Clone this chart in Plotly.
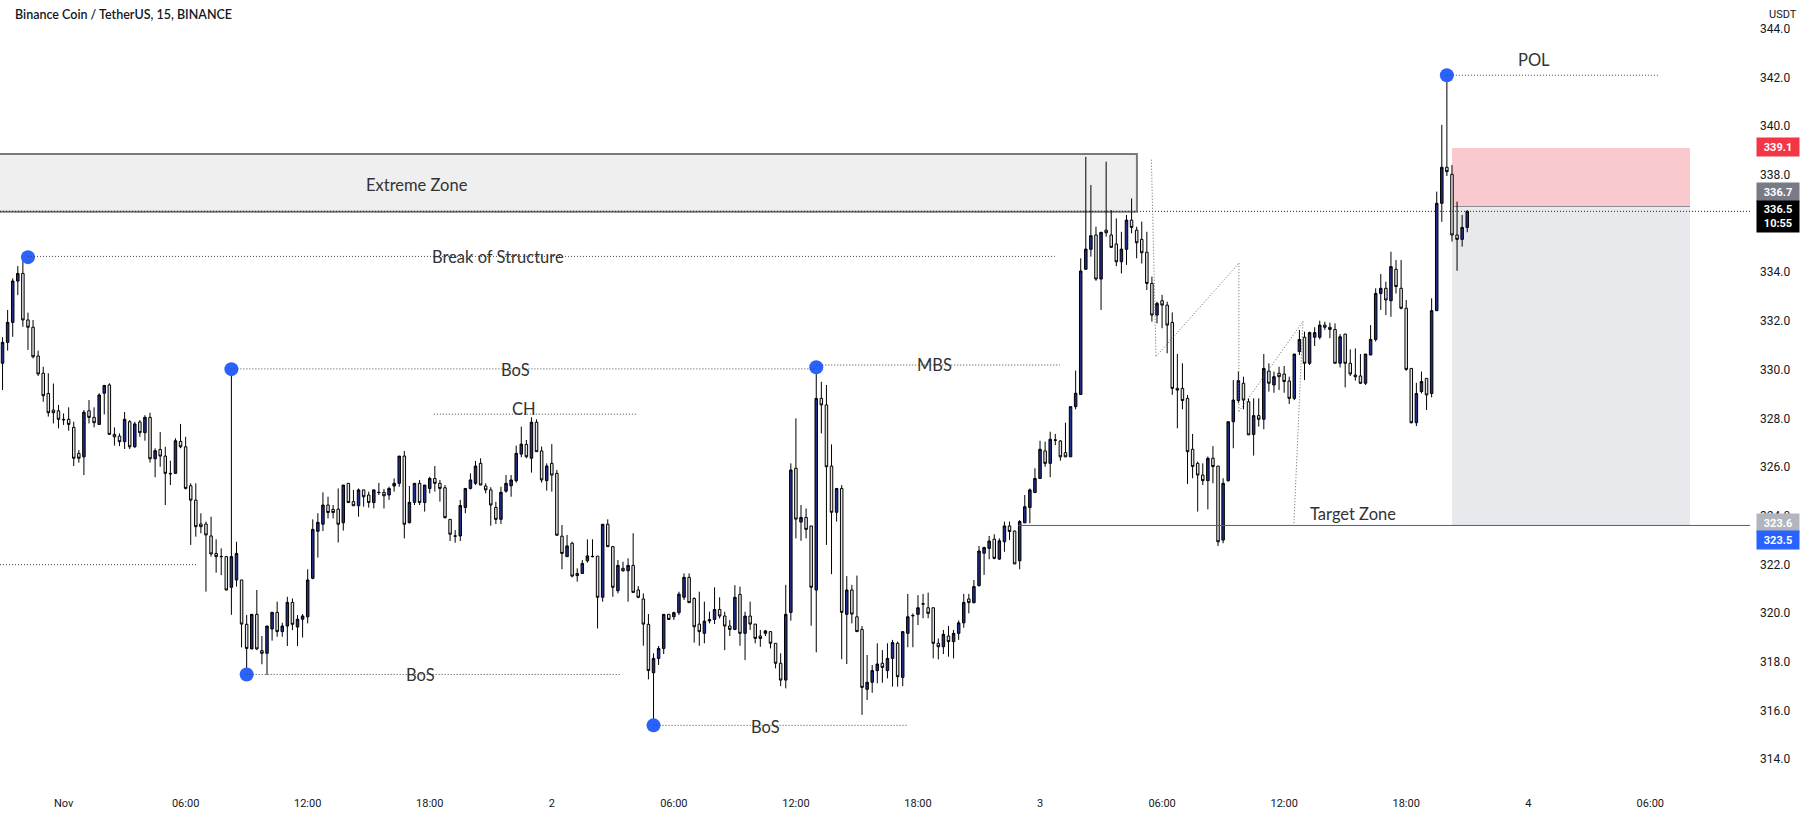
import plotly.graph_objects as go
import pandas as pd

# ---------------- data (15-minute bars, BNB/USDT) ----------------
START = pd.Timestamp("2022-10-31 21:00")   # first visible bar
NOV1 = pd.Timestamp("2022-11-01 00:00")
BAR = pd.Timedelta(minutes=15)

opens = [330.26, 331.12, 331.94, 333.64, 333.95, 332.04, 331.74, 330.56, 329.85, 329.02, 328.34, 328.31,
         327.96, 327.96, 327.63, 326.56, 326.42, 328.31, 328.04, 327.75, 329.03, 329.37, 327.34, 327.27,
         327.04, 327.86, 326.83, 327.85, 327.41, 328.04, 326.34, 326.72, 326.45, 325.74, 325.74, 327.05,
         326.83, 325.23, 324.64, 323.66, 323.66, 323.17, 322.45, 322.33, 322.32, 321.06, 321.36, 321.36,
         319.54, 318.53, 319.95, 318.46, 318.35, 319.35, 320.03, 319.24, 319.47, 320.44, 319.43, 319.75,
         319.85, 321.43, 323.36, 323.65, 324.44, 324.26, 324.27, 323.71, 325.33, 324.58, 324.41, 325.06,
         324.85, 324.54, 324.95, 324.96, 324.85, 325.22, 325.33, 326.45, 323.71, 324.55, 325.33, 324.54,
         325.12, 325.53, 325.33, 325.15, 323.85, 323.17, 323.17, 324.34, 325.12, 325.33, 326.15, 325.22,
         325.06, 324.34, 323.85, 325.01, 325.23, 325.44, 326.53, 326.93, 326.36, 327.84, 326.66, 325.44,
         326.15, 325.74, 323.16, 322.32, 322.87, 321.63, 321.63, 322.15, 322.32, 322.34, 320.65, 323.65,
         322.73, 320.92, 321.84, 321.74, 321.96, 320.95, 320.58, 319.54, 317.55, 318.14, 318.55, 319.95,
         319.85, 320.02, 320.65, 321.47, 320.60, 319.55, 319.17, 319.68, 319.74, 320.15, 319.88, 319.47,
         319.33, 320.77, 319.17, 319.88, 319.55, 319.06, 319.17, 319.24, 318.76, 317.94, 317.25, 320.03,
         325.95, 323.74, 323.93, 323.58, 320.95, 328.82, 328.55, 326.04, 324.14, 325.12, 319.95, 320.95,
         319.85, 319.33, 316.87, 317.16, 317.64, 317.94, 317.64, 318.14, 318.76, 317.36, 319.17, 319.89,
         319.95, 320.37, 320.22, 320.22, 318.76, 318.62, 319.06, 318.83, 319.17, 319.60, 320.58, 320.43,
         321.13, 322.46, 322.66, 323.04, 322.22, 322.93, 323.58, 323.37, 322.15, 323.71, 324.34, 324.95,
         325.53, 326.66, 326.15, 327.10, 327.07, 326.59, 326.42, 328.48, 328.98, 334.12, 334.94, 335.53,
         333.72, 335.73, 335.53, 335.16, 334.43, 334.94, 336.14, 335.73, 335.35, 334.82, 333.54, 332.24,
         332.83, 332.65, 331.94, 329.23, 329.23, 328.82, 326.73, 326.15, 325.67, 325.44, 326.36, 326.04,
         323.00, 325.44, 327.86, 328.73, 329.44, 328.68, 327.34, 328.11, 327.96, 329.94, 329.37, 329.85,
         329.82, 329.53, 328.82, 330.74, 331.33, 330.26, 331.33, 331.33, 331.83, 331.74, 331.65, 330.26,
         331.46, 330.26, 329.78, 329.74, 329.44, 330.60, 331.24, 333.13, 333.34, 332.83, 334.12, 333.34,
         332.52, 330.05, 327.82, 329.10, 329.64, 329.02, 332.42, 336.83, 338.31, 338.02, 335.53, 335.35,
         335.84]
highs = [331.33, 332.45, 333.75, 334.25, 334.60, 332.34, 332.04, 330.78, 330.12, 329.85, 329.43, 328.55,
         328.20, 328.45, 327.86, 326.70, 328.34, 328.75, 328.45, 329.03, 329.37, 329.44, 327.63, 327.38,
         328.26, 327.93, 327.86, 327.93, 328.13, 328.23, 326.77, 327.44, 326.83, 326.26, 327.18, 327.77,
         327.24, 325.33, 325.33, 324.10, 323.76, 323.96, 323.03, 322.66, 322.35, 330.00, 322.93, 321.37,
         319.92, 319.95, 320.95, 319.06, 319.47, 320.06, 320.47, 319.61, 320.67, 320.60, 319.92, 319.96,
         321.80, 323.85, 324.10, 324.96, 324.78, 324.44, 325.12, 325.26, 325.33, 325.06, 325.12, 325.06,
         324.99, 325.08, 325.35, 325.10, 325.19, 325.53, 326.45, 326.66, 325.22, 325.33, 325.47, 325.26,
         325.60, 326.04, 325.47, 325.26, 323.85, 323.41, 324.65, 325.12, 325.74, 326.25, 326.36, 325.33,
         325.17, 324.57, 325.19, 325.67, 325.67, 326.88, 327.66, 327.11, 328.04, 327.96, 326.84, 326.15,
         326.94, 325.88, 323.62, 323.21, 322.93, 321.84, 322.18, 323.03, 323.03, 322.34, 323.65, 323.85,
         322.76, 322.18, 322.11, 322.25, 323.28, 321.11, 320.81, 319.96, 318.35, 318.65, 319.95, 319.95,
         320.06, 320.88, 321.63, 321.63, 320.65, 320.88, 320.47, 320.06, 321.06, 320.65, 320.06, 319.72,
         321.15, 321.09, 320.06, 320.47, 319.55, 319.31, 319.31, 319.24, 318.76, 318.35, 321.16, 326.15,
         328.00, 324.44, 324.30, 323.58, 330.10, 329.50, 329.37, 326.93, 325.12, 325.26, 321.52, 321.16,
         321.54, 319.47, 318.28, 317.87, 318.76, 318.48, 318.76, 318.90, 318.83, 319.24, 320.79, 319.99,
         320.74, 320.79, 320.84, 320.22, 318.96, 319.31, 319.47, 319.31, 319.70, 320.79, 320.79, 321.36,
         322.76, 322.73, 323.17, 323.24, 323.07, 323.76, 323.76, 323.39, 323.82, 324.85, 325.12, 325.95,
         327.08, 327.04, 327.45, 327.36, 327.11, 327.82, 328.48, 329.96, 334.57, 338.74, 337.58, 335.87,
         335.64, 338.54, 336.55, 336.21, 335.66, 336.35, 337.03, 335.87, 336.08, 335.66, 333.82, 332.79,
         333.07, 332.79, 332.35, 330.64, 330.26, 328.96, 327.36, 326.22, 326.15, 326.43, 326.86, 326.04,
         325.54, 327.86, 329.57, 329.92, 329.71, 328.82, 328.82, 328.82, 330.64, 330.26, 329.92, 330.12,
         330.15, 329.71, 330.64, 331.63, 331.56, 331.56, 331.74, 332.01, 331.97, 331.93, 331.90, 331.46,
         331.46, 330.83, 330.87, 330.64, 330.64, 331.83, 333.34, 333.93, 333.61, 334.84, 334.50, 334.50,
         332.86, 330.05, 329.46, 329.92, 329.64, 332.93, 337.31, 340.05, 342.10, 338.40, 336.90, 336.35,
         336.55]
lows = [329.16, 330.78, 331.35, 333.06, 331.76, 330.81, 330.46, 329.74, 328.68, 328.07, 327.79, 327.59,
        327.73, 327.49, 326.04, 326.18, 325.67, 327.79, 327.63, 327.73, 328.16, 327.34, 326.88, 326.86,
        326.74, 326.74, 326.79, 327.24, 327.08, 326.18, 325.58, 326.01, 324.44, 325.26, 325.71, 326.77,
        325.08, 322.80, 323.14, 323.28, 320.88, 322.32, 321.66, 321.56, 320.93, 319.93, 321.09, 318.59,
        317.45, 318.52, 318.48, 317.90, 317.46, 318.87, 319.03, 319.03, 318.65, 319.30, 318.65, 319.00,
        319.58, 321.39, 322.28, 323.37, 323.89, 323.89, 322.90, 323.39, 324.54, 324.41, 323.96, 324.37,
        324.33, 324.30, 324.85, 324.30, 324.65, 324.99, 325.19, 323.07, 323.69, 324.44, 324.44, 324.17,
        324.92, 324.99, 324.58, 323.89, 322.96, 322.89, 322.96, 324.10, 325.08, 325.26, 325.26, 324.92,
        323.59, 323.66, 323.66, 324.95, 324.78, 325.36, 326.40, 326.36, 325.77, 326.63, 325.36, 325.03,
        324.99, 323.17, 321.80, 322.32, 321.47, 321.29, 321.61, 322.07, 322.29, 319.37, 320.47, 322.73,
        320.67, 320.81, 321.70, 320.47, 320.85, 320.61, 318.66, 317.28, 315.40, 317.87, 318.32, 319.74,
        319.72, 319.92, 320.54, 320.43, 318.79, 318.66, 318.76, 319.58, 319.55, 319.78, 318.48, 319.06,
        319.30, 318.66, 318.07, 319.31, 318.76, 318.62, 319.06, 318.55, 317.73, 317.00, 316.91, 319.69,
        323.07, 322.97, 323.07, 319.48, 318.39, 327.38, 322.80, 321.60, 323.76, 318.11, 317.91, 319.58,
        319.24, 315.82, 316.43, 316.73, 317.12, 317.14, 317.32, 316.98, 316.98, 317.00, 318.60, 318.60,
        319.51, 319.79, 319.79, 318.14, 318.10, 318.32, 318.21, 318.14, 318.90, 319.40, 319.99, 320.40,
        321.09, 321.57, 322.21, 322.21, 322.18, 322.52, 323.00, 322.02, 321.80, 323.69, 323.69, 324.95,
        325.53, 326.01, 325.58, 326.90, 326.26, 326.40, 326.42, 328.37, 328.98, 334.12, 334.64, 333.65,
        332.45, 335.46, 335.02, 334.25, 333.95, 334.30, 335.60, 334.57, 334.36, 333.27, 331.97, 331.90,
        331.70, 330.67, 328.96, 327.59, 328.37, 325.30, 325.54, 324.17, 325.26, 324.26, 325.33, 322.76,
        322.87, 325.40, 326.77, 328.62, 328.37, 327.32, 326.47, 327.66, 327.55, 329.10, 329.05, 329.16,
        329.05, 328.59, 328.75, 330.60, 329.57, 330.19, 330.97, 331.24, 331.63, 331.29, 330.26, 330.09,
        329.27, 329.74, 329.55, 329.41, 329.37, 330.60, 331.15, 332.45, 332.24, 332.17, 333.13, 332.48,
        329.95, 327.79, 327.68, 329.02, 328.34, 328.86, 332.42, 336.07, 337.95, 335.26, 334.06, 335.05,
        335.64]
closes = [331.12, 331.94, 333.64, 333.95, 332.04, 331.74, 330.53, 329.82, 328.93, 328.23, 328.23, 327.96,
          327.94, 327.75, 326.36, 326.36, 328.25, 328.04, 327.82, 328.96, 329.35, 327.34, 327.24, 327.04,
          327.96, 326.83, 327.77, 327.41, 328.04, 326.34, 326.67, 326.45, 325.74, 325.72, 327.08, 326.83,
          325.12, 324.64, 323.55, 323.55, 323.21, 322.43, 322.32, 322.32, 320.95, 322.32, 322.45, 319.55,
          318.55, 319.95, 318.53, 318.35, 319.47, 320.03, 319.24, 319.47, 320.44, 319.54, 319.75, 319.88,
          321.36, 323.44, 323.73, 324.44, 324.13, 324.13, 323.65, 325.26, 324.54, 324.41, 325.06, 324.78,
          324.54, 325.06, 324.96, 324.82, 325.12, 325.33, 326.45, 323.65, 324.55, 325.33, 324.54, 325.26,
          325.53, 325.33, 325.12, 323.92, 323.24, 323.16, 324.42, 325.12, 325.47, 326.04, 325.26, 325.06,
          324.44, 323.85, 324.96, 325.33, 325.47, 326.56, 326.94, 326.42, 327.84, 326.63, 325.47, 326.04,
          325.67, 323.20, 322.45, 322.76, 321.52, 321.54, 322.04, 322.35, 322.33, 320.65, 323.65, 322.73,
          321.06, 321.96, 321.74, 321.96, 320.85, 320.65, 319.55, 317.64, 318.14, 318.55, 319.95, 319.74,
          320.02, 320.78, 321.47, 320.43, 319.44, 319.24, 319.67, 319.73, 320.15, 319.88, 319.47, 319.33,
          320.65, 319.17, 319.88, 319.55, 318.96, 318.96, 319.27, 318.76, 317.94, 317.25, 319.95, 325.88,
          323.86, 323.93, 323.44, 321.06, 328.82, 328.55, 326.01, 324.14, 325.12, 320.03, 320.95, 319.96,
          319.24, 316.95, 317.16, 317.64, 317.91, 317.77, 318.14, 318.79, 317.39, 319.24, 319.85, 319.90,
          320.22, 320.38, 319.99, 318.76, 318.62, 319.13, 318.83, 319.17, 319.60, 320.44, 320.43, 321.09,
          322.55, 322.69, 322.96, 322.25, 322.97, 323.58, 323.35, 322.02, 323.76, 324.37, 325.06, 325.53,
          326.73, 326.15, 327.14, 327.11, 326.42, 326.42, 328.48, 329.03, 334.05, 334.95, 335.50, 333.72,
          335.64, 335.62, 335.02, 334.43, 334.95, 336.14, 335.84, 335.21, 334.80, 333.54, 332.24, 332.72,
          332.65, 331.83, 329.23, 329.16, 328.73, 326.63, 326.02, 325.67, 325.44, 326.36, 326.02, 322.93,
          325.33, 327.86, 328.75, 329.55, 328.75, 327.32, 328.11, 327.96, 330.05, 329.44, 329.71, 329.71,
          329.51, 328.82, 330.64, 331.24, 330.26, 331.52, 331.52, 331.83, 331.74, 331.65, 330.26, 331.35,
          330.26, 329.82, 329.71, 329.44, 330.64, 331.24, 333.13, 333.34, 332.86, 334.23, 333.41, 332.52,
          330.01, 327.82, 329.02, 329.51, 328.96, 332.42, 336.83, 338.31, 338.13, 335.53, 335.35, 335.84,
          336.50]

# axis ticks
price_ticks = [314, 316, 318, 320, 322, 324, 326, 328, 330, 332, 334, 336, 338, 340, 342, 344]
time_ticks = ["2022-11-01 00:00", "2022-11-01 06:00", "2022-11-01 12:00", "2022-11-01 18:00",
              "2022-11-02 00:00", "2022-11-02 06:00", "2022-11-02 12:00", "2022-11-02 18:00",
              "2022-11-03 00:00", "2022-11-03 06:00", "2022-11-03 12:00", "2022-11-03 18:00",
              "2022-11-04 00:00", "2022-11-04 06:00"]
time_labels = ["Nov", "06:00", "12:00", "18:00", "2", "06:00", "12:00", "18:00",
               "3", "06:00", "12:00", "18:00", "4", "06:00"]

# drawings (bar offsets from Nov 1 00:00, prices)
swing_bars = [-7, 33, 36, 116, 148, 272]
swing_prices = [334.62, 330.02, 317.48, 315.39, 330.10, 342.09]

level_start = [-7, 33, 148, 72.8, -12.5, 36, 116, 272]
level_end = [194.9, 148, 195.9, 112.8, 26.2, 109.6, 166.1, 313.7]
level_price = [334.65, 330.03, 330.19, 328.17, 321.99, 317.48, 315.39, 342.09]

label_text = ["Extreme Zone", "Break of Structure", "BoS", "MBS", "CH", "BoS", "BoS", "POL", "Target Zone"]
label_bar = [69.4, 85.5, 88.9, 171.3, 90.5, 70.1, 138.1, 289.1, 253.6]
label_price = [337.58, 334.62, 330.00, 330.19, 328.40, 317.45, 315.34, 342.72, 324.06]

zone_bars = [-20, 211.05]
zone_prices = [336.48, 338.86]

zig_bars = [213.9, 214.8, 231.1, 231.1, 243.7, 241.9]
zig_prices = [338.62, 330.54, 334.37, 328.28, 331.98, 323.63]

target_bar = 187.7
target_price = 323.6
pos_bars = [273.0, 319.8]
pos_entry, pos_stop, pos_target = 336.7, 339.1, 323.6
last_price = 336.5

x_range_bars = [-12.5, 331.6]
y_range = [312.9, 345.18]


def T(b):
    return NOV1 + b * BAR


times = [START + k * BAR for k in range(len(opens))]

fig = go.Figure()
fig.add_trace(go.Candlestick(
    x=times, open=opens, high=highs, low=lows, close=closes,
    increasing=dict(fillcolor="#1f2d8a", line=dict(color="#000000", width=1)),
    decreasing=dict(fillcolor="#e4e4e4", line=dict(color="#000000", width=1)),
    whiskerwidth=0, showlegend=False, hoverinfo="skip"))

DOT = "#444444"
shapes = []
# extreme zone
shapes.append(dict(type="rect", xref="x", yref="y", x0=T(zone_bars[0]), x1=T(zone_bars[1]),
                   y0=zone_prices[0], y1=zone_prices[1], fillcolor="#efefef",
                   line=dict(color="#7a7a7a", width=2), layer="below"))
# position tool
shapes.append(dict(type="rect", xref="x", yref="y", x0=T(pos_bars[0]), x1=T(pos_bars[1]),
                   y0=pos_entry, y1=pos_stop, fillcolor="#f9c9cd", line=dict(width=0), layer="below"))
shapes.append(dict(type="rect", xref="x", yref="y", x0=T(pos_bars[0]), x1=T(pos_bars[1]),
                   y0=pos_target, y1=pos_entry, fillcolor="#e7e9ec", line=dict(width=0), layer="below"))
shapes.append(dict(type="line", xref="x", yref="y", x0=T(pos_bars[0]), x1=T(pos_bars[1]),
                   y0=pos_entry, y1=pos_entry, line=dict(color="#8a8d96", width=1), layer="below"))
# dotted levels
for a, b, p in zip(level_start, level_end, level_price):
    shapes.append(dict(type="line", xref="x", yref="y", x0=T(a), x1=T(b), y0=p, y1=p,
                       line=dict(color=DOT, width=1, dash="1px,2px")))
# current price line
shapes.append(dict(type="line", xref="paper", yref="y", x0=0, x1=1, y0=last_price, y1=last_price,
                   line=dict(color="#222222", width=1, dash="1px,2px")))
# target zone ray
shapes.append(dict(type="line", xref="x", yref="y", x0=T(target_bar), x1=T(x_range_bars[1]),
                   y0=target_price, y1=target_price, line=dict(color="#3558d8", width=1)))
# zigzag
for k in range(len(zig_bars) - 1):
    shapes.append(dict(type="line", xref="x", yref="y", x0=T(zig_bars[k]), x1=T(zig_bars[k + 1]),
                       y0=zig_prices[k], y1=zig_prices[k + 1],
                       line=dict(color="#666666", width=1, dash="1px,2px")))

# swing dots
fig.add_trace(go.Scatter(x=[T(b) for b in swing_bars], y=swing_prices, mode="markers",
                         marker=dict(size=14, color="#2962ff"), showlegend=False, hoverinfo="skip"))

anns = []
for t, b, p in zip(label_text, label_bar, label_price):
    anns.append(dict(x=T(b), y=p, xref="x", yref="y", text=t, showarrow=False,
                     font=dict(family="Lato", size=16.5, color="#333333"), xanchor="center", yanchor="middle"))

anns.append(dict(x=0.0072, y=0.981, xref="paper", yref="paper", text="Binance Coin / TetherUS, 15, BINANCE",
                 showarrow=False, xanchor="left", yanchor="middle",
                 font=dict(family="Lato", size=12.5, color="#131722", weight=600)))
anns.append(dict(x=1.0, y=1.0, xref="paper", yref="paper", text="USDT", showarrow=False,
                 xanchor="left", yanchor="top", xshift=17, yshift=-6,
                 font=dict(family="Roboto", size=11, color="#131722")))

# price scale labels (value text, vertical position on the scale, colours)
scale_labels = [("339.1", 339.14, "#f23645", "#ffffff"),
                ("336.7", 337.29, "#787b86", "#ffffff"),
                ("336.5<br>10:55", 336.29, "#000000", "#ffffff"),
                ("323.6", 323.70, "#b2b5be", "#ffffff"),
                ("323.5", 322.99, "#2962ff", "#ffffff")]
for txt, p, bg, fg in scale_labels:
    h = 29 if "<br>" in txt else 16
    anns.append(dict(x=1.0, y=p, xref="paper", yref="y", text="<b>" + txt + "</b>", showarrow=False,
                     xanchor="left", yanchor="middle", xshift=6, width=40, height=h, align="center",
                     bgcolor=bg, font=dict(family="Roboto", size=11, color=fg)))

fig.update_layout(
    width=1814, height=818, margin=dict(l=0, r=64, t=0, b=32),
    paper_bgcolor="#ffffff", plot_bgcolor="#ffffff",
    shapes=shapes, annotations=anns, showlegend=False,
    xaxis=dict(range=[T(x_range_bars[0]), T(x_range_bars[1])], rangeslider=dict(visible=False),
               tickvals=time_ticks, ticktext=time_labels, showgrid=False, zeroline=False,
               showline=False, ticks="", ticklabelstandoff=9,
               tickfont=dict(family="Roboto", size=11, color="#131722")),
    yaxis=dict(range=y_range, side="right", tickvals=price_ticks,
               ticktext=["%.1f" % v for v in price_ticks], showgrid=False, zeroline=False,
               showline=False, ticks="", ticklabelstandoff=9,
               tickfont=dict(family="Roboto", size=12, color="#131722")),
)

fig.write_html("out.html", config={"displayModeBar": False},
               post_script="document.body.style.margin='0';")
